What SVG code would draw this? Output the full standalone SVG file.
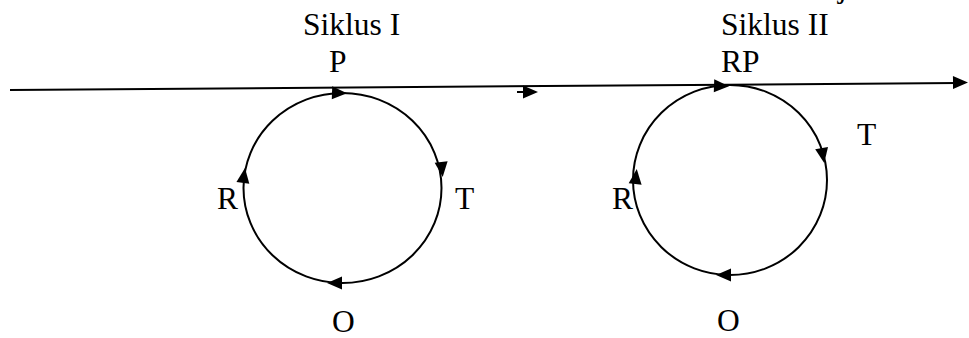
<svg xmlns="http://www.w3.org/2000/svg" xmlns:xlink="http://www.w3.org/1999/xlink" width="969" height="338" viewBox="0 0 969 338">
<style>
  .lbl { font-family: "Liberation Serif", "Times New Roman", serif; font-size: 31.5px; fill: #000; }
  .ring { fill: none; stroke: #000; stroke-width: 2; }
  .ln { stroke: #000; stroke-width: 2; fill: none; }
  .ah { fill: #000; }
</style>
<defs>
  <path id="ah" d="M7,0 L-8,-6.5 L-8,6.5 Z"/>
</defs>
<rect width="969" height="338" fill="#fff"/>
<text class="lbl" x="838" y="-3">j</text>
<g id="connectors">
  <line class="ln" x1="10" y1="90" x2="958" y2="83"/>
  <use href="#ah" class="ah" transform="translate(961,82.5) rotate(-0.4)"/>
  <line class="ln" x1="517" y1="92" x2="528" y2="92"/>
  <use href="#ah" class="ah" transform="translate(531,92)"/>
</g>
<g id="cycle1">
  <ellipse class="ring" cx="342.5" cy="188" rx="99" ry="95"/>
  <use href="#ah" class="ah" transform="translate(340,93) rotate(2)"/>
  <use href="#ah" class="ah" transform="translate(442,170) rotate(84)"/>
  <use href="#ah" class="ah" transform="translate(244,175) rotate(-82)"/>
  <use href="#ah" class="ah" transform="translate(334,283) rotate(180)"/>
</g>
<g id="cycle2">
  <ellipse class="ring" cx="730" cy="180" rx="97" ry="95"/>
  <use href="#ah" class="ah" transform="translate(722,86) rotate(2)"/>
  <use href="#ah" class="ah" transform="translate(823,156) rotate(80)"/>
  <use href="#ah" class="ah" transform="translate(636,176) rotate(-84)"/>
  <use href="#ah" class="ah" transform="translate(723,275) rotate(180)"/>
</g>
<g id="label-siklus1"><text class="lbl" x="303" y="35">Siklus I</text></g>
<g id="label-P"><text class="lbl" x="329" y="72">P</text></g>
<g id="label-siklus2"><text class="lbl" x="721" y="35">Siklus II</text></g>
<g id="label-RP"><text class="lbl" x="721" y="72">RP</text></g>
<g id="label-R1"><text class="lbl" x="217" y="209">R</text></g>
<g id="label-T1"><text class="lbl" x="455" y="209">T</text></g>
<g id="label-O1"><text class="lbl" x="332" y="332">O</text></g>
<g id="label-R2"><text class="lbl" x="612" y="209">R</text></g>
<g id="label-T2"><text class="lbl" x="857" y="145">T</text></g>
<g id="label-O2"><text class="lbl" x="717" y="331">O</text></g>
</svg>
